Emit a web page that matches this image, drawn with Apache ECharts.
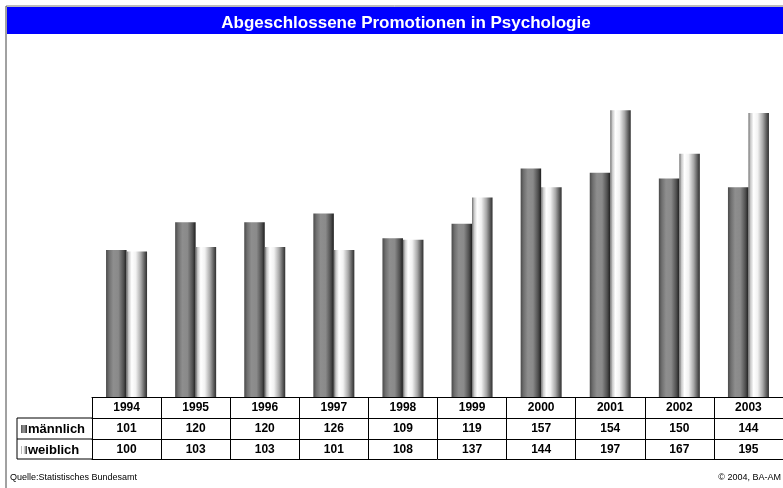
<!DOCTYPE html>
<html>
<head>
<meta charset="utf-8">
<script src="https://cdn.jsdelivr.net/npm/echarts@6/dist/echarts.min.js"></script>
<style>
html, body { margin: 0; padding: 0; background: #fff; }
#main { width: 783px; height: 488px; }
</style>
</head>
<body>
<div id="main"></div>
<script>
var years = ['1994', '1995', '1996', '1997', '1998', '1999', '2000', '2001', '2002', '2003'];
var maennlich = [101, 120, 120, 126, 109, 119, 157, 154, 150, 144];
var weiblich = [100, 103, 103, 101, 108, 137, 144, 197, 167, 195];

var myChart = echarts.init(document.getElementById('main'));

var maleFill = new echarts.graphic.LinearGradient(0, 0, 1, 0, [
    {offset: 0, color: '#4a4a4a'},
    {offset: 0.15, color: '#707070'},
    {offset: 0.35, color: '#8e8e8e'},
    {offset: 0.6, color: '#8a8a8a'},
    {offset: 0.85, color: '#505050'},
    {offset: 1, color: '#1e1e1e'}
]);
var femaleFill = new echarts.graphic.LinearGradient(0, 0, 1, 0, [
    {offset: 0, color: '#6a6a6a'},
    {offset: 0.1, color: '#c8c8c8'},
    {offset: 0.25, color: '#ffffff'},
    {offset: 0.45, color: '#f2f2f2'},
    {offset: 0.7, color: '#a8a8a8'},
    {offset: 0.9, color: '#555555'},
    {offset: 1, color: '#303030'}
]);

var fontFam = 'Liberation Sans, Arial, sans-serif';

function rowAxis(offset, rowData, showLabel) {
    return {
        type: 'category',
        position: 'bottom',
        offset: offset,
        data: years,
        axisLine: {show: true, lineStyle: {color: '#000', width: 1}},
        axisTick: {show: false},
        axisLabel: {
            show: showLabel,
            interval: 0,
            margin: 0,
            lineHeight: 21,
            verticalAlign: 'top',
            fontFamily: fontFam,
            fontWeight: 'bold',
            fontSize: 12,
            color: '#000',
            formatter: function (v, i) { return rowData ? String(rowData[i]) : ''; }
        }
    };
}

var hline = function (y) {
    return {type: 'line', shape: {x1: 17, y1: y, x2: 92, y2: y}, style: {stroke: '#000', lineWidth: 1}};
};

var option = {
    animation: false,
    title: {
        text: 'Abgeschlossene Promotionen in Psychologie',
        left: 401,
        top: 10,
        textAlign: 'center',
        textStyle: {color: '#fff', fontSize: 17, fontWeight: 'bold', fontFamily: fontFam}
    },
    grid: {left: 92, top: 33, width: 692, height: 364},
    xAxis: [
        {
            type: 'category',
            position: 'bottom',
            data: years,
            axisLine: {show: true, lineStyle: {color: '#000', width: 1}},
            axisTick: {show: true, interval: 0, length: 62, lineStyle: {color: '#000', width: 1}},
            axisLabel: {
                interval: 0, margin: 0, lineHeight: 21, verticalAlign: 'top',
                fontFamily: fontFam, fontWeight: 'bold', fontSize: 12, color: '#000'
            }
        },
        rowAxis(21, maennlich, true),
        rowAxis(42, weiblich, true),
        rowAxis(62, null, false)
    ],
    yAxis: {
        type: 'value',
        min: 0,
        max: 250,
        show: false,
        splitLine: {show: false}
    },
    series: [
        {
            name: 'männlich',
            type: 'bar',
            data: maennlich,
            barWidth: 20.5,
            barGap: '0%',
            itemStyle: {color: maleFill}
        },
        {
            name: 'weiblich',
            type: 'bar',
            data: weiblich,
            barWidth: 20.5,
            barGap: '0%',
            itemStyle: {color: femaleFill}
        }
    ],
    graphic: [
        {type: 'line', shape: {x1: 6, y1: 6, x2: 783, y2: 6}, style: {stroke: '#777', lineWidth: 1}},
        {type: 'line', shape: {x1: 6, y1: 6, x2: 6, y2: 488}, style: {stroke: '#444', lineWidth: 1}},
        {type: 'rect', z: -1, shape: {x: 7, y: 7, width: 776, height: 27}, style: {fill: '#0000ff'}},
        hline(418), hline(439), hline(459),
        {type: 'line', shape: {x1: 17, y1: 418, x2: 17, y2: 459}, style: {stroke: '#000', lineWidth: 1}},
        {type: 'rect', shape: {x: 21, y: 425, width: 6, height: 8}, style: {fill: maleFill}},
        {type: 'rect', shape: {x: 21, y: 446, width: 6, height: 8}, style: {fill: femaleFill}},
        {type: 'text', x: 28, y: 429, style: {text: 'männlich', font: 'bold 13px Liberation Sans, Arial, sans-serif', fill: '#000', verticalAlign: 'middle'}},
        {type: 'text', x: 28, y: 450, style: {text: 'weiblich', font: 'bold 13px Liberation Sans, Arial, sans-serif', fill: '#000', verticalAlign: 'middle'}},
        {type: 'text', x: 10, y: 478, style: {text: 'Quelle:Statistisches Bundesamt', font: '9px Liberation Sans, Arial, sans-serif', fill: '#000', verticalAlign: 'middle'}},
        {type: 'text', x: 781, y: 478, style: {text: '© 2004, BA-AM', font: '9px Liberation Sans, Arial, sans-serif', fill: '#000', align: 'right', verticalAlign: 'middle'}}
    ]
};
myChart.setOption(option);
</script>
</body>
</html>
